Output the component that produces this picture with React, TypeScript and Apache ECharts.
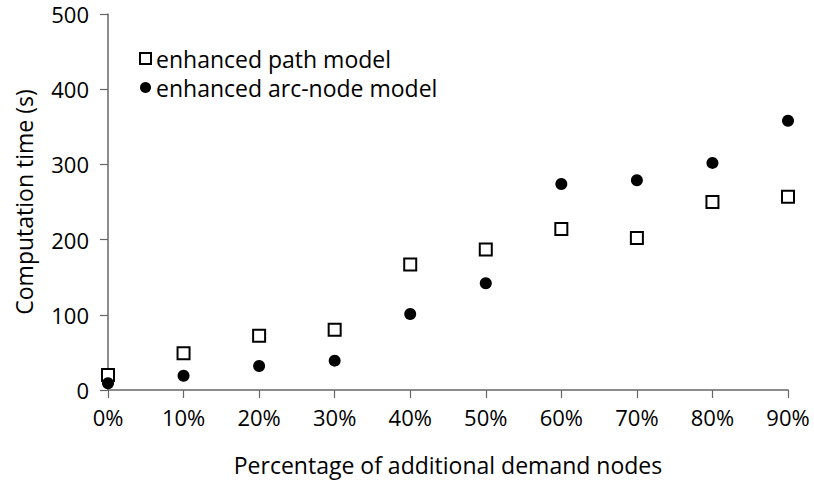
import React, { useEffect, useRef } from "react";
import * as echarts from "echarts";

const percents = [0, 10, 20, 30, 40, 50, 60, 70, 80, 90];
const pathModel = [20, 49, 72, 80, 167, 187, 214, 202, 250, 257];
const arcNodeModel = [9, 19, 32, 39, 101, 142, 274, 279, 302, 358];
const yTicks = [0, 100, 200, 300, 400, 500];

const FONT = "'Open Sans', 'DejaVu Sans', sans-serif";

export default function App() {
  const ref = useRef<HTMLDivElement>(null);
  useEffect(() => {
    if (!ref.current) return;
    const chart = echarts.init(ref.current, undefined, { renderer: "svg" });
    const axisColor = "#666";
    chart.setOption({
      animation: false,
      textStyle: { fontFamily: FONT, color: "#000" },
      grid: { left: 108, right: 26, top: 14, bottom: 99, containLabel: false },
      legend: {
        orient: "vertical",
        left: 134,
        top: 42,
        itemWidth: 11,
        itemHeight: 11,
        itemGap: 6,
        textStyle: { fontFamily: FONT, fontSize: 23, color: "#000", padding: [0, 0, 0, 0] },
        data: [
          { name: "enhanced path model", icon: "rect", itemStyle: { color: "#fff", borderColor: "#000", borderWidth: 2 } },
          { name: "enhanced arc-node model", icon: "circle", itemStyle: { color: "#000" } },
        ],
      },
      xAxis: {
        type: "value",
        min: 0,
        max: 90,
        interval: 10,
        name: "Percentage of additional demand nodes",
        nameLocation: "middle",
        nameGap: 63,
        nameTextStyle: { fontFamily: FONT, fontSize: 23, color: "#000" },
        axisLine: { lineStyle: { color: axisColor, width: 1.5 } },
        axisTick: { length: 8, lineStyle: { color: axisColor, width: 1.2 } },
        axisLabel: { formatter: "{value}%", fontSize: 22, color: "#000", margin: 16, fontFamily: FONT },
        splitLine: { show: false },
      },
      yAxis: {
        type: "value",
        min: yTicks[0],
        max: yTicks[yTicks.length - 1],
        interval: 100,
        name: "Computation time (s)",
        nameLocation: "middle",
        nameGap: 73,
        nameTextStyle: { fontFamily: FONT, fontSize: 23, color: "#000" },
        axisLine: { show: true, lineStyle: { color: axisColor, width: 1.5 } },
        axisTick: { show: true, length: 8, lineStyle: { color: axisColor, width: 1.2 } },
        axisLabel: { fontSize: 22, color: "#000", margin: 19, fontFamily: FONT },
        splitLine: { show: false },
      },
      series: [
        {
          name: "enhanced path model",
          type: "scatter",
          symbol: "rect",
          symbolSize: 12,
          itemStyle: { color: "#fff", borderColor: "#000", borderWidth: 2, opacity: 1 },
          data: percents.map((p, i) => [p, pathModel[i]]),
          z: 2,
        },
        {
          name: "enhanced arc-node model",
          type: "scatter",
          symbol: "circle",
          symbolSize: 12,
          itemStyle: { color: "#000", opacity: 1 },
          data: percents.map((p, i) => [p, arcNodeModel[i]]),
          z: 3,
        },
      ],
    });
    return () => chart.dispose();
  }, []);
  return <div ref={ref} style={{ width: 814, height: 489, position: "absolute", left: 0, top: 0 }} />;
}
